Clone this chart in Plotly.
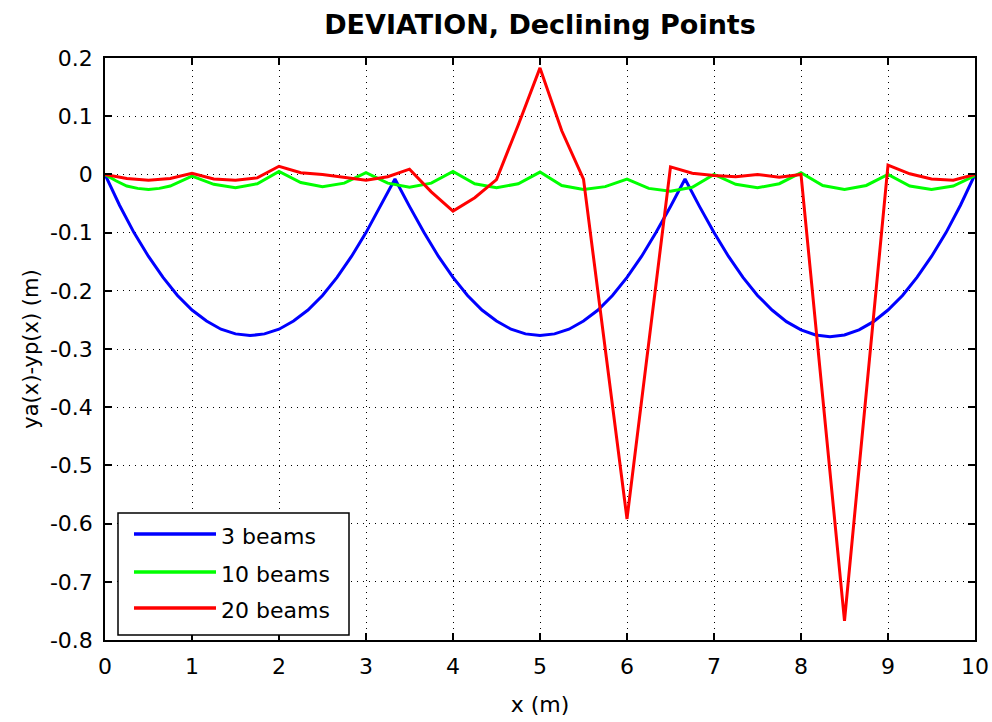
import plotly.graph_objects as go

# ---- data ----
x_blue = [0, 0.167, 0.333, 0.5, 0.667, 0.833, 1.0, 1.167, 1.333, 1.5, 1.667, 1.833, 2.0, 2.167, 2.333, 2.5, 2.667, 2.833, 3.0, 3.167, 3.333,
          3.5, 3.667, 3.833, 4.0, 4.167, 4.333, 4.5, 4.667, 4.833, 5.0, 5.167, 5.333, 5.5, 5.667, 5.833, 6.0, 6.167, 6.333, 6.5, 6.667,
          6.833, 7.0, 7.167, 7.333, 7.5, 7.667, 7.833, 8.0, 8.167, 8.333, 8.5, 8.667, 8.833, 9.0, 9.167, 9.333, 9.5, 9.667, 9.833, 10.0]
y_blue = [0, -0.053, -0.100, -0.141, -0.177, -0.208, -0.233, -0.252, -0.266, -0.274, -0.277, -0.274, -0.266, -0.252, -0.233, -0.208, -0.177, -0.141, -0.100, -0.055, -0.008,
          -0.055, -0.100, -0.141, -0.177, -0.208, -0.233, -0.252, -0.266, -0.274, -0.277, -0.274, -0.266, -0.252, -0.233, -0.208, -0.177, -0.141, -0.100, -0.055, -0.008,
          -0.055, -0.100, -0.141, -0.177, -0.208, -0.233, -0.253, -0.267, -0.276, -0.279, -0.276, -0.267, -0.253, -0.233, -0.208, -0.177, -0.141, -0.100, -0.053, 0.0]

x_green = [0, 0.125, 0.25, 0.375, 0.5, 0.625, 0.75, 0.875, 1.0, 1.25, 1.5, 1.75, 2.0, 2.25, 2.5, 2.75, 3.0, 3.25, 3.5, 3.75, 4.0, 4.25, 4.5, 4.75, 5.0,
           5.25, 5.5, 5.75, 6.0, 6.25, 6.5, 6.75, 7.0, 7.25, 7.5, 7.75, 8.0, 8.25, 8.5, 8.75, 9.0, 9.25, 9.5, 9.75, 10.0]
y_green = [0, -0.011, -0.020, -0.024, -0.026, -0.024, -0.020, -0.012, -0.003, -0.017, -0.023, -0.016, 0.005, -0.014, -0.021, -0.015, 0.003, -0.015, -0.022, -0.015, 0.005, -0.016, -0.023, -0.016, 0.004,
           -0.019, -0.026, -0.021, -0.008, -0.024, -0.029, -0.022, 0.0, -0.017, -0.023, -0.016, 0.003, -0.019, -0.026, -0.019, 0.0, -0.020, -0.026, -0.020, -0.002]

x_red = [0, 0.25, 0.5, 0.75, 1.0, 1.25, 1.5, 1.75, 2.0, 2.25, 2.5, 2.75, 3.0, 3.25, 3.5, 3.75, 4.0, 4.25, 4.5, 4.75, 5.0,
         5.25, 5.5, 6.0, 6.5, 6.75, 7.0, 7.25, 7.5, 7.75, 8.0, 8.5, 9.0, 9.25, 9.5, 9.75, 10.0]
y_red = [0, -0.007, -0.010, -0.007, 0.002, -0.008, -0.010, -0.006, 0.014, 0.003, 0.000, -0.005, -0.010, -0.004, 0.009, -0.030, -0.063, -0.040, -0.009, 0.085, 0.183,
         0.075, -0.008, -0.592, 0.013, 0.002, -0.002, -0.004, 0.000, -0.005, 0.0, -0.767, 0.016, 0.001, -0.008, -0.010, 0.0]

series_names = ["3 beams", "10 beams", "20 beams"]
series_colors = ["#0000FF", "#00FF00", "#FF0000"]

x_ticks = [0, 1, 2, 3, 4, 5, 6, 7, 8, 9, 10]
x_ticklabels = ["0", "1", "2", "3", "4", "5", "6", "7", "8", "9", "10"]
y_ticks = [0.2, 0.1, 0, -0.1, -0.2, -0.3, -0.4, -0.5, -0.6, -0.7, -0.8]
y_ticklabels = ["0.2", "0.1", "0", "-0.1", "-0.2", "-0.3", "-0.4", "-0.5", "-0.6", "-0.7", "-0.8"]

FONT = "DejaVu Sans, sans-serif"

fig = go.Figure()
for i, (xs, ys) in enumerate([(x_blue, y_blue), (x_green, y_green), (x_red, y_red)]):
    fig.add_trace(go.Scatter(x=xs, y=ys, mode="lines", name=series_names[i],
                             showlegend=False,
                             line=dict(color=series_colors[i], width=3)))

axis_common = dict(showline=True, linecolor="black", linewidth=1.5, mirror="ticks",
                   ticks="inside", ticklen=7, tickcolor="black", tickwidth=1.5,
                   showgrid=True, gridcolor="black", griddash="1px,5px", gridwidth=1.2,
                   zeroline=False, automargin=False,
                   tickfont=dict(family=FONT, size=22, color="black"))

fig.update_xaxes(range=[0, 10], tickvals=x_ticks, ticktext=x_ticklabels,
                 ticklabelstandoff=6,
                 title=dict(text="x (m)", font=dict(family=FONT, size=22, color="black"), standoff=18),
                 **axis_common)
fig.update_yaxes(range=[-0.8, 0.2], tickvals=y_ticks, ticktext=y_ticklabels,
                 ticklabelstandoff=6,
                 title=dict(text="ya(x)-yp(x) (m)", font=dict(family=FONT, size=21, color="black"), standoff=6),
                 **axis_common)

# ---- MATLAB-style legend box (long line samples) ----
def px_x(p):
    return (p - 105) / 870.0

def px_y(p):
    return (640 - p) / 582.0

shapes = [dict(type="rect", xref="paper", yref="paper",
               x0=px_x(118), x1=px_x(349), y0=px_y(635), y1=px_y(513),
               line=dict(color="black", width=1.5), fillcolor="white", layer="above")]
annotations = []
legend_rows = [534, 572, 608]
for i, name in enumerate(series_names):
    yy = px_y(legend_rows[i])
    shapes.append(dict(type="line", xref="paper", yref="paper",
                       x0=px_x(134), x1=px_x(216), y0=yy, y1=yy,
                       line=dict(color=series_colors[i], width=3.5), layer="above"))
    annotations.append(dict(xref="paper", yref="paper", x=px_x(219), y=px_y(legend_rows[i] + 2),
                            text=name, showarrow=False, xanchor="left", yanchor="middle",
                            font=dict(family=FONT, size=22, color="black")))

fig.update_layout(
    width=992, height=722,
    margin=dict(l=105, r=17, t=58, b=82),
    paper_bgcolor="white", plot_bgcolor="white",
    title=dict(text="<b>DEVIATION, Declining Points</b>", x=540 / 992, xanchor="center",
               y=1 - 25 / 722, yanchor="middle",
               font=dict(family="DejaVu Sans, sans-serif", size=27, color="black")),
    shapes=shapes,
    annotations=annotations,
    showlegend=False,
)

fig.write_html("out.html")
